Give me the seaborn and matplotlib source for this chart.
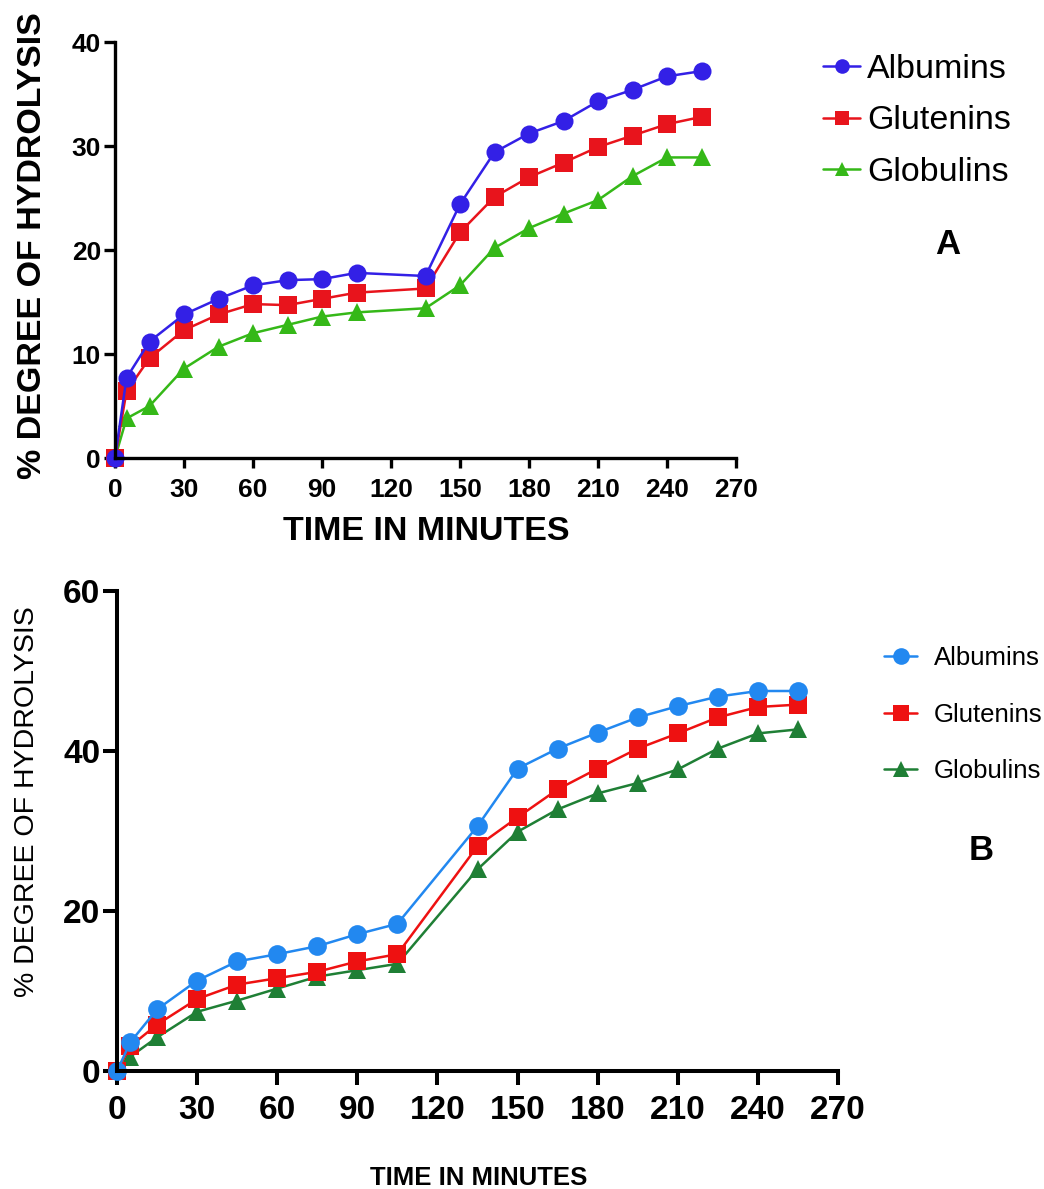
import matplotlib
matplotlib.use("Agg")
import matplotlib.pyplot as plt
import numpy as np
import pandas as pd
import seaborn as sns
from matplotlib.lines import Line2D

# ---------------- data ----------------
time_min = [0, 5, 15, 30, 45, 60, 75, 90, 105, 135, 150, 165, 180, 195, 210, 225, 240, 255]
proteins = ["Albumins", "Glutenins", "Globulins"]

# Panel A
a_albumins = [0, 7.7, 11.2, 13.8, 15.3, 16.6, 17.1, 17.2, 17.8, 17.5, 24.4, 29.4, 31.2, 32.4, 34.3, 35.4, 36.7, 37.2]
a_glutenins = [0, 6.4, 9.6, 12.3, 13.8, 14.8, 14.7, 15.3, 15.9, 16.3, 21.7, 25.1, 27.0, 28.4, 29.9, 31.0, 32.1, 32.8]
a_globulins = [0, 3.8, 5.0, 8.6, 10.7, 12.0, 12.8, 13.6, 14.0, 14.4, 16.6, 20.2, 22.1, 23.5, 24.8, 27.1, 28.9, 28.9]

# Panel B
b_albumins = [0, 3.6, 7.7, 11.3, 13.7, 14.6, 15.6, 17.1, 18.4, 30.6, 37.8, 40.3, 42.3, 44.2, 45.6, 46.8, 47.5, 47.5]
b_glutenins = [0, 3.1, 5.8, 9.0, 10.8, 11.6, 12.4, 13.7, 14.6, 28.1, 31.7, 35.2, 37.8, 40.3, 42.2, 44.2, 45.5, 45.8]
b_globulins = [0, 1.8, 4.2, 7.4, 8.8, 10.3, 11.8, 12.6, 13.4, 25.2, 29.9, 32.7, 34.7, 36.0, 37.7, 40.3, 42.2, 42.7]

x_ticks = [0, 30, 60, 90, 120, 150, 180, 210, 240, 270]
a_yticks = [0, 10, 20, 30, 40]
b_yticks = [0, 20, 40, 60]

colors_a = {"Albumins": "#3320E6", "Glutenins": "#E8141C", "Globulins": "#35B818"}
colors_b = {"Albumins": "#2288F0", "Glutenins": "#EE1111", "Globulins": "#1F7F35"}
markers = {"Albumins": "o", "Glutenins": "s", "Globulins": "^"}


def make_df(alb, glu, glo):
    frames = []
    for name, vals in zip(proteins, [alb, glu, glo]):
        frames.append(pd.DataFrame({"time": time_min, "value": vals, "protein": name}))
    return pd.concat(frames, ignore_index=True)


sns.set_style("ticks")
plt.rcParams["font.family"] = ["Liberation Sans", "DejaVu Sans"]
plt.rcParams["text.color"] = "black"
plt.rcParams["axes.labelcolor"] = "black"

W, H = 1044, 1189
fig = plt.figure(figsize=(W / 100, H / 100), dpi=100)


def px(x, y):
    return x / W, 1 - y / H


ax1 = fig.add_axes([115 / W, 1 - 458 / H, (736 - 115) / W, (458 - 42) / H])
ax2 = fig.add_axes([117 / W, 1 - 1071 / H, (838 - 117) / W, (1071 - 591) / H])


def draw(ax, df, colors, msize, ylim, yticks, tsize, spw, xlen, xpad, ylen):
    sns.lineplot(data=df, x="time", y="value", hue="protein", style="protein",
                 hue_order=["Globulins", "Glutenins", "Albumins"],
                 style_order=["Globulins", "Glutenins", "Albumins"],
                 palette=colors, markers=markers, dashes=False,
                 markersize=msize, markeredgewidth=0, linewidth=1.8,
                 legend=False, ax=ax, clip_on=False)
    ax.set_xlim(0, 270)
    ax.set_ylim(*ylim)
    ax.set_xticks(x_ticks)
    ax.set_yticks(yticks)
    ax.set_xlabel("")
    ax.set_ylabel("")
    for s in ["top", "right"]:
        ax.spines[s].set_visible(False)
    for s in ["left", "bottom"]:
        ax.spines[s].set_linewidth(spw)
        ax.spines[s].set_color("black")
    ax.tick_params(axis="x", direction="out", length=xlen, width=spw,
                   labelsize=tsize, bottom=True, pad=xpad, colors="black")
    ax.tick_params(axis="y", direction="out", length=ylen, width=spw,
                   labelsize=tsize, left=True, pad=2, colors="black")
    for lab in ax.get_xticklabels() + ax.get_yticklabels():
        lab.set_fontweight("bold")


draw(ax1, make_df(a_albumins, a_glutenins, a_globulins), colors_a, 13, (0, 40), a_yticks, 19,
     2.4, 7.5, 7.0, 8)
draw(ax2, make_df(b_albumins, b_glutenins, b_globulins), colors_b, 13.5, (0, 60), b_yticks, 24,
     2.9, 10, 7.0, 10)

# axis titles
fig.text(*px(33, 246), "% DEGREE OF HYDROLYSIS", rotation=90, ha="center", va="center",
         fontsize=24.5, fontweight="bold")
fig.text(*px(426, 532), "TIME IN MINUTES", ha="center", va="center",
         fontsize=24.5, fontweight="bold")
fig.text(*px(27, 802), "% DEGREE OF HYDROLYSIS", rotation=90, ha="center", va="center",
         fontsize=20.5)
fig.text(*px(479, 1178), "TIME IN MINUTES", ha="center", va="center",
         fontsize=18.5, fontweight="bold")

# panel letters
fig.text(*px(948, 245), "A", ha="center", va="center", fontsize=25, fontweight="bold")
fig.text(*px(981, 851), "B", ha="center", va="center", fontsize=25, fontweight="bold")


def handles(colors, ms):
    return [Line2D([0], [0], color=colors[p], marker=markers[p], markersize=ms,
                   markeredgewidth=0, linewidth=1.8) for p in proteins]


fig.legend(handles(colors_a, 10.5), proteins, loc="upper left",
           bbox_to_anchor=px(823, 54), frameon=False, fontsize=24.5,
           handlelength=1.1, handletextpad=0.2, labelspacing=0.6,
           borderpad=0, borderaxespad=0)
fig.legend(handles(colors_b, 12), proteins, loc="upper left",
           bbox_to_anchor=px(884, 646), frameon=False, fontsize=18.5,
           handlelength=1.3, handletextpad=0.65, labelspacing=1.27,
           borderpad=0, borderaxespad=0)

fig.savefig("out.png", dpi=100)
